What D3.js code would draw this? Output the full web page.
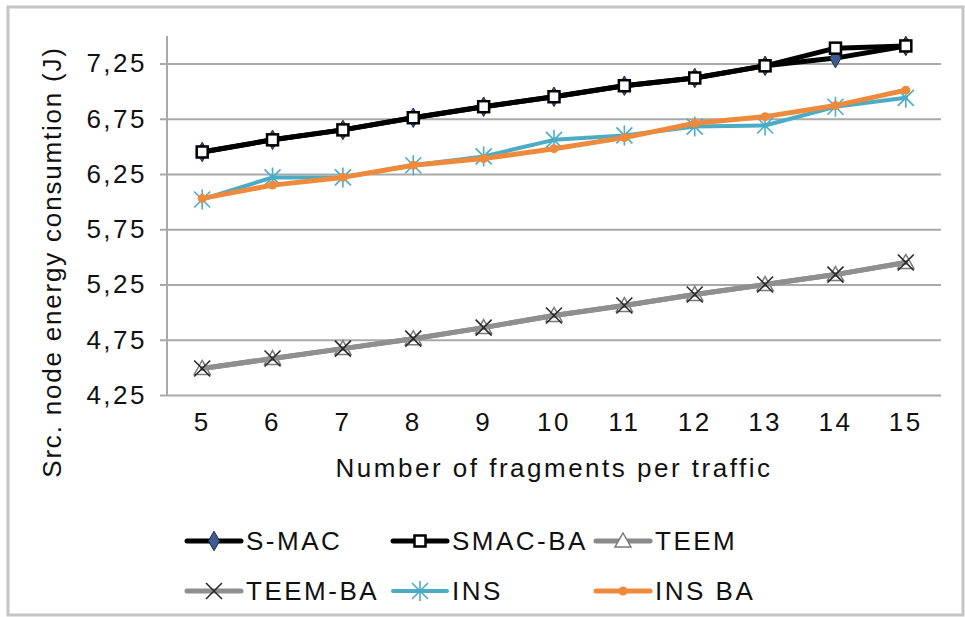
<!DOCTYPE html>
<html>
<head>
<meta charset="utf-8">
<script src="https://cdn.jsdelivr.net/npm/d3@7/dist/d3.min.js"></script>
<style>
    body { margin: 0; background: #fff; }
    text { font-family: "Liberation Sans", Arial, sans-serif; fill: #111; letter-spacing: 2.5px; }
</style>
</head>
<body>
<div id="chart"></div>
<script>
// values
var categories = [5, 6, 7, 8, 9, 10, 11, 12, 13, 14, 15];
var sMac   = [6.45, 6.56, 6.65, 6.76, 6.86, 6.95, 7.05, 7.12, 7.23, 7.30, 7.41];
var smacBa = [6.45, 6.56, 6.65, 6.76, 6.86, 6.95, 7.05, 7.12, 7.23, 7.39, 7.41];
var teem   = [4.49, 4.58, 4.67, 4.76, 4.86, 4.97, 5.06, 5.16, 5.25, 5.34, 5.45];
var teemBa = [4.49, 4.58, 4.67, 4.76, 4.86, 4.97, 5.06, 5.16, 5.25, 5.34, 5.45];
var ins    = [6.02, 6.22, 6.22, 6.33, 6.41, 6.56, 6.60, 6.68, 6.69, 6.86, 6.94];
var insBa  = [6.03, 6.15, 6.22, 6.33, 6.39, 6.48, 6.58, 6.71, 6.77, 6.87, 7.01];
var yTicks = [4.25, 4.75, 5.25, 5.75, 6.25, 6.75, 7.25];
var seriesNames = ["S-MAC", "SMAC-BA", "TEEM", "TEEM-BA", "INS", "INS BA"];

var series = [
    { name: seriesNames[0], values: sMac,   color: "#000", width: 5, marker: "diamond" },
    { name: seriesNames[1], values: smacBa, color: "#000", width: 5, marker: "square" },
    { name: seriesNames[2], values: teem,   color: "#8a8a8a", width: 5, marker: "triangle" },
    { name: seriesNames[3], values: teemBa, color: "#8f8f8f", width: 5, marker: "cross" },
    { name: seriesNames[4], values: ins,    color: "#4bacc6", width: 4, marker: "star" },
    { name: seriesNames[5], values: insBa,  color: "#ef8a3c", width: 5, marker: "circle" }
];

var W = 965, H = 617;
// plot area (window.top is taken, so no plain "top")
var plotLeft = 167, plotRight = 941, plotTop = 36, plotBottom = 395;

var svg = d3.select("#chart").append("svg")
    .attr("width", W)
    .attr("height", H);

// outer frame of the chart area
svg.append("rect")
    .attr("x", 8).attr("y", 7)
    .attr("width", 955).attr("height", 608)
    .attr("fill", "#fff")
    .attr("stroke", "#c4c4c4")
    .attr("stroke-width", 3);

var x = d3.scaleBand()
    .domain(categories)
    .range([plotLeft, plotRight]);

var y = d3.scaleLinear()
    .domain([4.25, 7.5])
    .range([plotBottom, plotTop]);

// gridlines + y labels
var yAxis = d3.axisLeft(y)
    .tickValues(yTicks)
    .tickSize(-(plotRight - plotLeft) - 7)
    .tickPadding(13)
    .tickFormat(function (d) { return d3.format(".2f")(d).replace(".", ","); });

var gy = svg.append("g")
    .attr("transform", "translate(" + (plotLeft - 7) + ",0)")
    .call(yAxis);
gy.select(".domain").remove();
gy.selectAll("line")
    .attr("stroke", "#a9a9a9")
    .attr("stroke-width", 2);
gy.selectAll("text")
    .attr("font-size", 26)
    .attr("fill", "#111");

// x labels
var xAxis = d3.axisBottom(x)
    .tickSize(0)
    .tickPadding(18);

var gx = svg.append("g")
    .attr("transform", "translate(0," + plotBottom + ")")
    .call(xAxis);
gx.select(".domain").remove();
gx.selectAll("text")
    .attr("font-size", 26)
    .attr("fill", "#111");

// vertical axis line
svg.append("line")
    .attr("x1", plotLeft).attr("x2", plotLeft)
    .attr("y1", plotTop).attr("y2", plotBottom)
    .attr("stroke", "#a9a9a9")
    .attr("stroke-width", 2);

// axis titles
svg.append("text")
    .attr("x", (plotLeft + plotRight) / 2)
    .attr("y", 477)
    .attr("text-anchor", "middle")
    .attr("font-size", 26)
    .text("Number of fragments per traffic");

svg.append("text")
    .attr("transform", "translate(61,262) rotate(-90)")
    .attr("text-anchor", "middle")
    .attr("font-size", 26)
    .style("letter-spacing", "1.8px")
    .text("Src. node energy consumtion (J)");

// marker drawing
function drawMarker(g, type, color) {
    if (type == "diamond") {
        g.append("path")
            .attr("d", d3.symbol().type(d3.symbolDiamond).size(110)())
            .attr("fill", "#3e5b93")
            .attr("stroke", "#1c2740")
            .attr("stroke-width", 1);
    } else if (type == "square") {
        g.append("rect")
            .attr("x", -5.5).attr("y", -5.5)
            .attr("width", 11).attr("height", 11)
            .attr("fill", "#fff")
            .attr("stroke", "#000")
            .attr("stroke-width", 2.5);
    } else if (type == "triangle") {
        g.append("path")
            .attr("d", "M0,-8L8,6L-8,6Z")
            .attr("fill", "#fff")
            .attr("stroke", "#7a7a7a")
            .attr("stroke-width", 1.5);
    } else if (type == "cross") {
        g.append("path")
            .attr("d", "M-8,-8L8,8M-8,8L8,-8")
            .attr("stroke", "#2a2a2a")
            .attr("stroke-width", 1.6);
    } else if (type == "star") {
        g.append("path")
            .attr("d", "M-8,-8L8,8M-8,8L8,-8M0,-10L0,10")
            .attr("stroke", color)
            .attr("stroke-width", 1.6);
    } else if (type == "circle") {
        g.append("circle")
            .attr("r", 4.5)
            .attr("fill", color);
    }
}

var line = d3.line()
    .x(function (d, i) { return x(categories[i]) + x.bandwidth() / 2; })
    .y(function (d) { return y(d); });

series.forEach(function (s) {
    var g = svg.append("g");
    g.append("path")
        .attr("d", line(s.values))
        .attr("fill", "none")
        .attr("stroke", s.color)
        .attr("stroke-width", s.width)
        .attr("stroke-linejoin", "round")
        .attr("stroke-linecap", "round");

    s.values.forEach(function (v, i) {
        var m = g.append("g")
            .attr("transform", "translate(" + (x(categories[i]) + x.bandwidth() / 2) + "," + y(v) + ")");
        drawMarker(m, s.marker, s.color);
    });
});

// legend, 3 per row
var legendX = [187, 393, 596];
var legendY = [541, 591];

series.forEach(function (s, i) {
    var lx = legendX[i % 3], ly = legendY[Math.floor(i / 3)];
    var g = svg.append("g").attr("transform", "translate(" + lx + "," + ly + ")");
    g.append("line")
        .attr("x1", 0).attr("x2", 54)
        .attr("stroke", s.color)
        .attr("stroke-width", s.width)
        .attr("stroke-linecap", "round");
    var m = g.append("g").attr("transform", "translate(27,0)");
    drawMarker(m, s.marker, s.color);
    g.append("text")
        .attr("x", 59)
        .attr("y", 0)
        .attr("dy", "0.36em")
        .attr("font-size", 26)
        .text(s.name);
});
</script>
</body>
</html>
